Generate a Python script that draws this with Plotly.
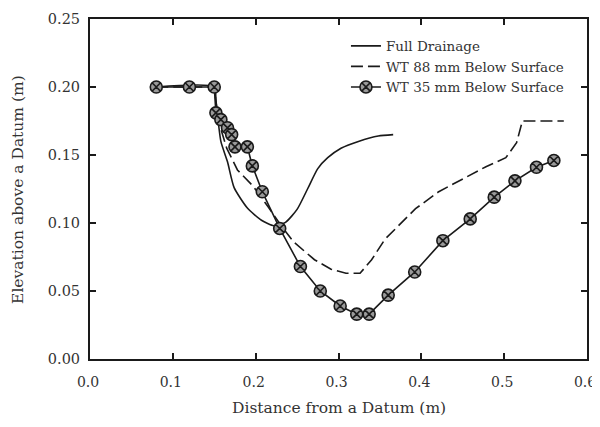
import plotly.graph_objects as go

# Full Drainage (solid)
fd_x = [0.08, 0.15, 0.152, 0.158, 0.166, 0.174, 0.19, 0.207, 0.222, 0.236, 0.25, 0.2626, 0.275, 0.287, 0.303, 0.324, 0.348, 0.366]
fd_y = [0.20, 0.20, 0.19, 0.16, 0.145, 0.126, 0.111, 0.102, 0.098, 0.1005, 0.110, 0.125, 0.140, 0.148, 0.155, 0.160, 0.164, 0.165]

# WT 88 mm Below Surface (dashed)
wt88_x = [0.08, 0.15, 0.155, 0.165, 0.178, 0.197, 0.215, 0.232, 0.246, 0.271, 0.291, 0.309, 0.326, 0.340, 0.356, 0.372, 0.393, 0.421, 0.454, 0.478, 0.502, 0.515, 0.522, 0.572]
wt88_y = [0.20, 0.20, 0.175, 0.155, 0.139, 0.127, 0.112, 0.097, 0.086, 0.073, 0.066, 0.063, 0.063, 0.073, 0.088, 0.098, 0.1105, 0.123, 0.134, 0.1414, 0.148, 0.159, 0.175, 0.175]

# WT 35 mm Below Surface (line + markers)
wt35_x = [0.08, 0.12, 0.15, 0.152, 0.158, 0.166, 0.171, 0.175, 0.19, 0.196, 0.208, 0.229, 0.254, 0.278, 0.302, 0.322, 0.337, 0.36, 0.392, 0.426, 0.459, 0.488, 0.513, 0.539, 0.56]
wt35_y = [0.20, 0.20, 0.20, 0.181, 0.176, 0.170, 0.165, 0.156, 0.156, 0.142, 0.123, 0.096, 0.068, 0.050, 0.039, 0.033, 0.033, 0.047, 0.064, 0.087, 0.103, 0.119, 0.131, 0.141, 0.146]

x_ticks = [0.0, 0.1, 0.2, 0.3, 0.4, 0.5, 0.6]
x_labels = ["0.0", "0.1", "0.2", "0.3", "0.4", "0.5", "0.6"]
y_ticks = [0.00, 0.05, 0.10, 0.15, 0.20, 0.25]
y_labels = ["0.00", "0.05", "0.10", "0.15", "0.20", "0.25"]

x_title = "Distance from a Datum (m)"
y_title = "Elevation above a Datum (m)"

font_family = "DejaVu Serif"
ink = "#1a1a1a"
text_col = "#333333"

fig = go.Figure()
fig.add_trace(go.Scatter(x=fd_x, y=fd_y, mode="lines", name="Full Drainage",
                         line=dict(color=ink, width=1.6, shape="spline", smoothing=0.6)))
fig.add_trace(go.Scatter(x=wt88_x, y=wt88_y, mode="lines", name="WT 88 mm Below Surface",
                         line=dict(color=ink, width=1.6, dash="12px,5px")))
fig.add_trace(go.Scatter(x=wt35_x, y=wt35_y, mode="lines+markers", name="WT 35 mm Below Surface",
                         line=dict(color=ink, width=1.6),
                         marker=dict(symbol="circle-x", size=12, color="#9a9a9a",
                                     line=dict(color=ink, width=1.6))))

axis_common = dict(showgrid=False, zeroline=False, showline=True, linecolor=ink, linewidth=2,
                   mirror="ticks", ticks="inside", ticklen=6, tickwidth=2, tickcolor=ink,
                   automargin=False)

fig.update_xaxes(range=[0, 0.6], tickvals=x_ticks, ticktext=x_labels, ticklabelstandoff=9,
                 ticklabelshift=-2, tickfont=dict(family=font_family, size=14, color=text_col),
                 **axis_common)
fig.update_yaxes(range=[0, 0.25], tickvals=y_ticks, ticktext=y_labels, ticklabelstandoff=5,
                 tickfont=dict(family=font_family, size=14.5, color=text_col), **axis_common)

fig.add_annotation(text=x_title, xref="paper", yref="paper", x=0.5, y=-0.145, yanchor="middle",
                   showarrow=False, font=dict(family=font_family, size=15.5, color=text_col))
fig.add_annotation(text=y_title, xref="paper", yref="paper", x=-0.145, y=0.5, xanchor="center",
                   yanchor="middle", textangle=-90,
                   showarrow=False, font=dict(family=font_family, size=15.5, color=text_col))

# page body adds an 8px margin, so the figure is sized to fill the rest of the window
fig.update_layout(
    width=592, height=419,
    margin=dict(l=82, r=13, t=11, b=68),
    plot_bgcolor="white", paper_bgcolor="white",
    font=dict(family=font_family, size=14, color=text_col),
    showlegend=True,
    legend=dict(x=0.515, y=0.966, xanchor="left", yanchor="top", bgcolor="rgba(0,0,0,0)",
                font=dict(family=font_family, size=13.5, color=text_col), tracegroupgap=0),
)

fig.write_html("out.html")
